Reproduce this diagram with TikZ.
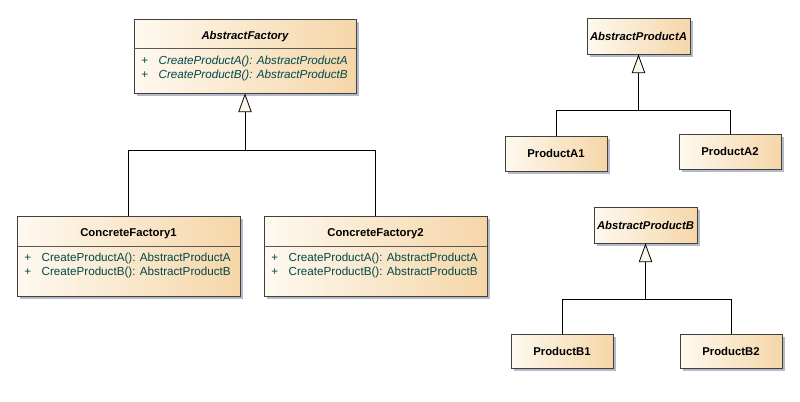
\documentclass[tikz,border=0pt]{standalone}
\usepackage{fontspec}
\setmainfont{Liberation Sans}
\usetikzlibrary{positioning, arrows.meta, shadows}

\definecolor{boxlight}{RGB}{254,249,240}
\definecolor{boxdark}{RGB}{245,214,168}
\definecolor{shadowc}{RGB}{150,158,178}
\definecolor{mbrcol}{RGB}{0,72,72}
\definecolor{tipfill}{RGB}{253,246,234}

\newcommand{\mplus}{\makebox[13pt][l]{+}}

\begin{document}
\begin{tikzpicture}
  [x=0.75pt, y=-0.75pt,
   cls/.style={draw=black!75, line width=0.6pt,
     left color=boxlight, right color=boxdark,
     drop shadow={shadow xshift=2.2pt, shadow yshift=-2.2pt,
       fill=shadowc, opacity=0.7},
     inner sep=0pt, font=\fontsize{8.5}{10}\selectfont\bfseries},
   ttl/.style={font=\fontsize{8.5}{10}\selectfont\bfseries, inner sep=0pt},
   mbr/.style={font=\fontsize{8.75}{10.5}\selectfont, text=mbrcol,
     align=left, inner sep=0pt, anchor=west},
   div/.style={draw=black!65, line width=0.8pt},
   inh/.style={line width=0.6pt,
     -{Triangle[open, fill=tipfill, length=14pt, width=10pt]}},
   lnk/.style={line width=0.6pt}]
  \useasboundingbox[fill=white] (0,0) rectangle (800,401);

  % factories
  \node[cls, minimum width=166.5pt, minimum height=55.5pt] (af) at (245,56) {};
  \node[ttl] (aft) at (245,37) {\itshape AbstractFactory};
  \draw[div] (af.north west) ++(0,30) -- ++(222,0);
  \node[mbr] (afm) at (141,68.5)
    {\mplus\textit{CreateProductA(): AbstractProductA}\\
     \mplus\textit{CreateProductB(): AbstractProductB}};

  \node[cls, minimum width=167.25pt, minimum height=60pt] (cf1) at (128.5,256) {};
  \node[ttl] (cf1t) at (128.5,234) {ConcreteFactory1};
  \draw[div] (cf1.north west) ++(0,31) -- ++(223,0);
  \node[mbr] (cf1m) at (24,265.5)
    {\mplus CreateProductA(): AbstractProductA\\
     \mplus CreateProductB(): AbstractProductB};

  \node[cls, minimum width=167.25pt, minimum height=60pt] (cf2) at (375.5,256) {};
  \node[ttl] (cf2t) at (375.5,234) {ConcreteFactory2};
  \draw[div] (cf2.north west) ++(0,31) -- ++(223,0);
  \node[mbr] (cf2m) at (271,265.5)
    {\mplus CreateProductA(): AbstractProductA\\
     \mplus CreateProductB(): AbstractProductB};

  % products
  \node[cls, minimum width=77.25pt, minimum height=27pt] (apa) at (638.5,36) {\itshape AbstractProductA};
  \node[cls, minimum width=76.5pt, minimum height=26.25pt] (pa1) at (556,153.5) {ProductA1};
  \node[cls, minimum width=76.5pt, minimum height=26.25pt] (pa2) at (730,151.5) {ProductA2};

  \node[cls, minimum width=77.25pt, minimum height=27pt] (apb) at (645.5,225) {\itshape AbstractProductB};
  \node[cls, minimum width=76.5pt, minimum height=25.5pt] (pb1) at (562,351) {ProductB1};
  \node[cls, minimum width=76.5pt, minimum height=25.5pt] (pb2) at (731,351) {ProductB2};

  % generalisations
  \coordinate (fj) at (245,150);
  \draw[inh] (cf1.north) |- (fj) -- (af.south);
  \draw[lnk] (cf2.north) |- (fj);

  \coordinate (aj) at (638.5,110);
  \draw[inh] (pa1.north) |- (aj) -- (apa.south);
  \draw[lnk] (pa2.north) |- (aj);

  \coordinate (bj) at (645.5,299);
  \draw[inh] (pb1.north) |- (bj) -- (apb.south);
  \draw[lnk] (pb2.north) |- (bj);
\end{tikzpicture}
\end{document}
